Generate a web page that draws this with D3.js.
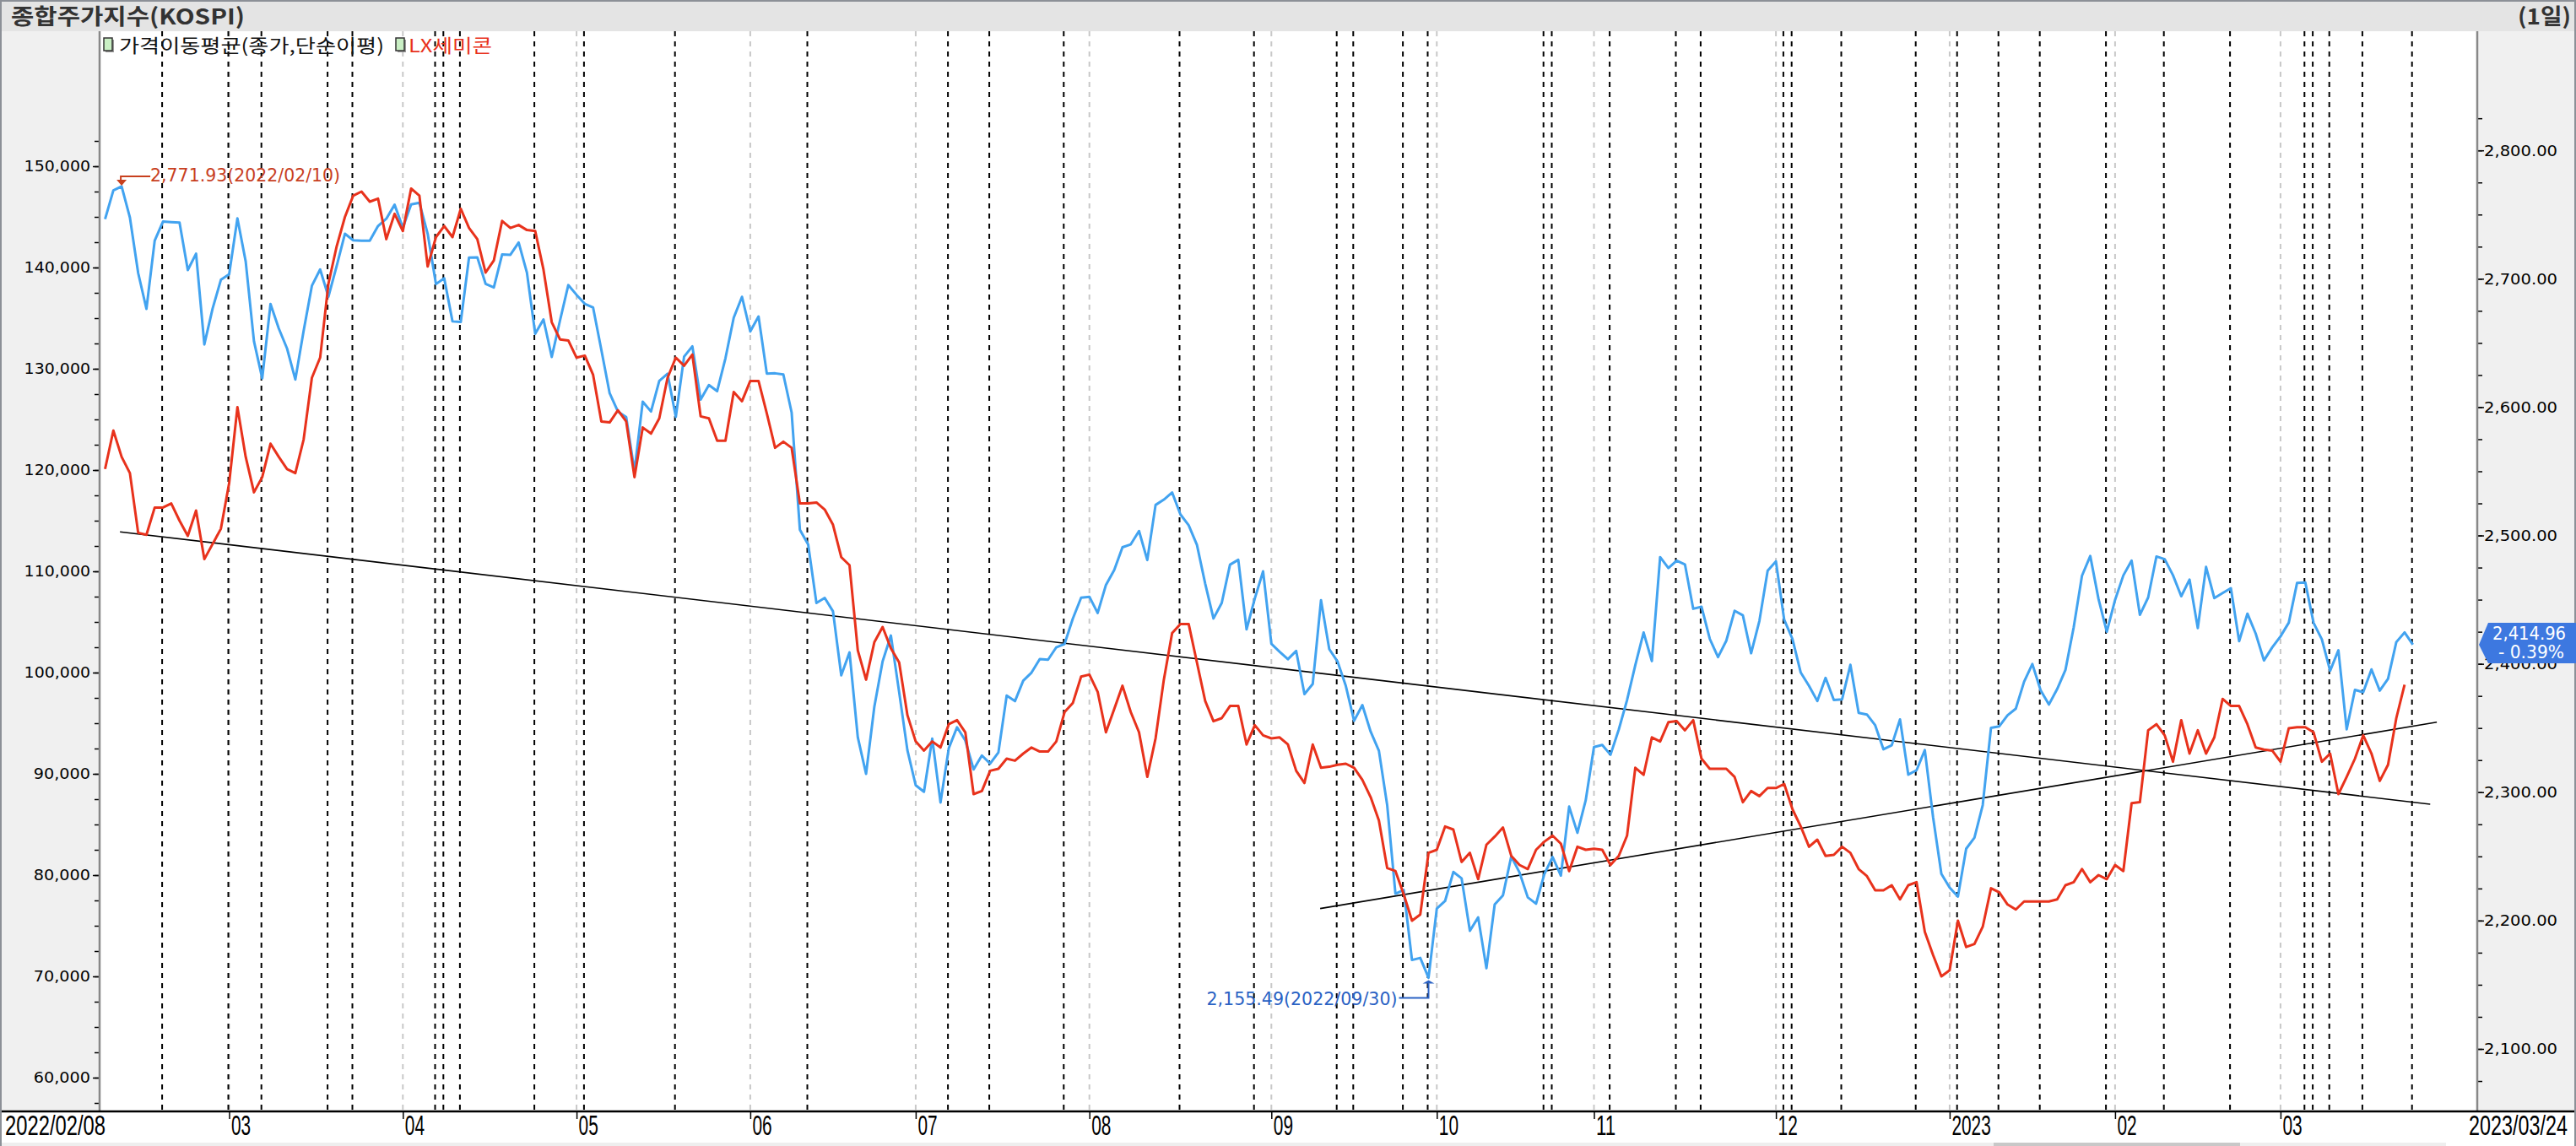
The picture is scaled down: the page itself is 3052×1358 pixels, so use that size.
<!DOCTYPE html>
<html><head><meta charset="utf-8">
<script src="https://cdn.jsdelivr.net/npm/d3@7"></script>
<style>html,body{margin:0;padding:0;background:#fff;overflow:hidden}</style>
</head><body>
<svg id="c" width="3052" height="1358" xmlns="http://www.w3.org/2000/svg"></svg>
<script>
// ---- DATA ----
// KOSPI daily close (blue, right axis), trading days 2022/02/08 .. 2023/03/24
const kospi = [
 2746.47,2768.85,2771.93,2747.71,2704.48,2676.54,2729.68,2744.52,2744.09,2743.80,2706.79,2719.53,2648.80,2676.76,2699.18,
 2703.52,2747.08,2713.43,2651.31,2622.40,2680.32,2661.28,2645.65,2621.53,2659.23,2694.51,2707.28,2686.05,2710.04,2735.05,2729.98,2729.66,2729.56,2741.07,2746.74,2757.65,
 2739.85,2757.90,2759.20,2735.03,2695.86,2700.39,2666.76,2666.31,2716.49,2716.71,2696.06,2693.21,2718.89,2718.69,2728.21,2704.71,2657.13,2668.31,2639.06,2667.49,2695.05,
 2687.45,2680.46,2677.57,2644.51,2610.81,2596.56,2592.27,2550.08,2604.24,2596.58,2620.44,2625.98,2592.34,2639.29,2647.38,2605.87,2617.22,2612.45,2638.05,2669.66,2685.90,
 2658.99,2670.65,2626.15,2626.34,2625.44,2595.87,2504.51,2492.97,2447.38,2451.41,2440.93,2391.03,2408.93,2342.81,2314.32,2366.60,2401.92,2422.09,2377.99,2332.64,
 2305.42,2300.34,2341.78,2292.01,2334.27,2350.61,2340.27,2317.76,2328.61,2322.32,2330.98,2375.25,2370.97,2386.85,2393.14,2403.69,2403.22,2412.90,2415.53,2435.27,2451.50,
 2452.25,2439.62,2461.45,2473.11,2490.80,2493.10,2503.46,2480.88,2523.78,2527.94,2533.52,2516.47,2508.05,2492.69,2462.50,2435.34,2447.45,2477.26,2481.03,2426.89,2450.93,2472.05,
 2415.61,2409.41,2403.68,2410.02,2376.46,2384.28,2449.54,2411.42,2401.83,2382.78,2355.66,2367.85,2347.21,2332.31,2290.00,2220.94,2223.86,2169.29,2170.93,2155.49,
 2209.38,2215.22,2237.86,2232.84,2192.07,2202.47,2162.87,2212.55,2219.71,2249.95,2237.44,2218.09,2213.12,2236.16,2249.55,2235.07,2288.78,2268.40,2293.61,
 2335.22,2336.84,2329.17,2348.83,2371.79,2399.04,2424.41,2402.14,2483.16,2474.65,2480.33,2477.45,2442.90,2444.48,2419.50,2405.27,2418.01,2441.33,2437.86,2408.27,2433.39,2472.53,
 2479.84,2434.33,2419.32,2393.16,2382.81,2371.08,2389.04,2371.84,2372.40,2399.25,2361.85,2360.54,2352.17,2333.41,2336.57,2356.73,2313.69,2317.14,2332.79,2280.45,2236.40,
 2225.67,2218.68,2255.98,2264.65,2289.97,2350.19,2351.31,2359.88,2365.10,2386.09,2399.86,2379.39,2368.32,2380.34,2395.26,2428.57,2468.65,2484.02,2450.47,2425.08,
 2449.80,2468.88,2480.40,2438.19,2451.71,2483.64,2481.52,2469.07,2452.70,2465.64,2427.90,2475.48,2451.21,2455.12,2458.96,2417.68,2439.09,2423.61,2402.64,2412.85,
 2421.40,2432.07,2462.99,2463.35,2431.91,2419.09,2394.59,2410.60,2348.97,2379.72,2377.91,2395.69,2379.14,2388.35,2416.96,2424.48,2414.96
];
// LX세미콘 close (red, left axis)
const lxsemicon = [
 120100,123900,121300,119700,113800,113600,116300,116300,116700,115000,113500,116000,111200,112700,114200,
 118700,126200,121300,117800,119300,122600,121300,120100,119700,123000,129100,131100,138400,142100,145000,147100,147500,146500,146800,142800,145300,
 143600,147800,147100,140100,143000,144100,143000,145800,143900,142800,139500,140700,144600,143900,144200,143700,143600,139800,134600,132900,132800,
 131100,131300,129400,124800,124700,125900,124800,119300,124200,123600,125100,129100,131100,130300,131400,125300,125100,122900,122900,127700,126800,
 128800,128800,125600,122200,122800,122200,116700,116700,116800,116100,114600,111400,110600,102200,99300,103000,104500,102400,101000,95800,
 93200,92300,93200,92600,94900,95300,94100,88000,88300,90300,90500,91500,91300,92000,92600,92200,92200,93200,96100,97000,99600,
 99800,98100,94100,96400,98700,96100,94100,89700,93500,99300,103900,104800,104800,101000,97200,95200,95500,96700,96700,92900,94800,93800,
 93500,93600,92900,90300,89100,92900,90600,90700,90900,91000,90600,89400,87700,85400,80700,80400,78100,75500,76100,
 82200,82500,84800,84500,81300,82200,79600,83000,83800,84700,81900,81000,80600,82500,83300,83900,83100,80400,82800,
 82500,82600,82500,81000,81900,83900,90600,89900,93600,93200,95100,95200,94300,95300,91500,90500,90500,90500,89700,87200,88300,87800,
 88600,88600,89000,86500,84800,82800,83500,81900,82000,82800,82200,80600,79900,78500,78500,79000,77600,79000,79300,74400,72100,
 70000,70600,75500,72900,73200,74900,78700,78300,77100,76600,77400,77400,77400,77400,77600,79000,79300,80600,79300,80000,
 79600,81000,80400,87100,87200,94300,94900,93800,91200,95300,92000,94300,92000,93600,97400,96700,96700,94900,92600,92400,
 92300,91200,94500,94600,94600,94100,91200,92000,88000,89700,91500,93800,92000,89300,90900,95500,98800
];
// month ticks on the trading-day axis
const monthLabels = ["03","04","05","06","07","08","09","10","11","12","2023","02","03"];
const monthIdx    = [15,36,57,78,98,119,141,161,180,202,223,243,263];
// event (black dashed) markers, trading-day index
const eventIdx = [7,15,19,27,30,40,41,43,52,58,69,85,102,107,116,130,139,149,151,157,160,174,175,182,190,193,203,204,210,219,224,229,234,242,249,257,266,267,269,273,279];
const leftTicks  = [60000,70000,80000,90000,100000,110000,120000,130000,140000,150000];
const rightTicks = [2100,2200,2300,2400,2500,2600,2700,2800];
const firstDate = "2022/02/08", lastDate = "2023/03/24";
// trend lines in (index, LX price) space
const trendA = [[1.8,113900],[281.1,87000]];
const trendB = [[146.9,76700],[281.9,95100]];
const maxMark = {i:2, v:2771.93, text:"2,771.93(2022/02/10)"};
const minMark = {i:160, v:2155.49, text:"2,155.49(2022/09/30)"};
const lastBox = {v:2414.96, line1:"2,414.96", line2:"- 0.39%"};
const title = "종합주가지수(KOSPI)", period = "(1일)";
const legendItems = ["가격이동평균(종가,단순이평)","LX세미콘"];

// ---- LAYOUT ----
const W=3052,H=1358, L=118, R=2935, T=37, B=1317;
const svg = d3.select("#c");
const x  = d3.scaleLinear().domain([0,279]).range([124.5,2858.7]);
const yL = d3.scaleLinear().domain([60000,150000]).range([1277,197]);
const yR = d3.scaleLinear().domain([2100,2800]).range([1243,178.2]);
const BLUE="#42a3f0", RED="#e8321c";

svg.append("rect").attr("width",W).attr("height",H).attr("fill","#fff");
svg.append("rect").attr("x",0).attr("y",T).attr("width",L).attr("height",B-T).attr("fill","#f0f0f0");
svg.append("rect").attr("x",R).attr("y",T).attr("width",W-R).attr("height",B-T).attr("fill","#f0f0f0");
svg.append("rect").attr("x",0).attr("y",0).attr("width",W).attr("height",T).attr("fill","#e4e4e4");
svg.append("rect").attr("x",0).attr("y",0).attr("width",W).attr("height",2).attr("fill","#8c9097");
// bottom scroll strip
svg.append("rect").attr("x",0).attr("y",1354).attr("width",2898).attr("height",4).attr("fill","#eeeeee");
svg.append("rect").attr("x",2362).attr("y",1354).attr("width",292).attr("height",4).attr("fill","#c8c8c8");

const plot = svg.append("g");
plot.selectAll("line.m").data(monthIdx).join("line").attr("class","m")
  .attr("x1",d=>x(d)).attr("x2",d=>x(d)).attr("y1",T).attr("y2",B)
  .attr("stroke","#c8c8c8").attr("stroke-width",2).attr("stroke-dasharray","6,6");
plot.selectAll("line.e").data(eventIdx).join("line").attr("class","e")
  .attr("x1",d=>x(d)-1).attr("x2",d=>x(d)-1).attr("y1",T).attr("y2",B)
  .attr("stroke","#000").attr("stroke-width",2).attr("stroke-dasharray","6,6");
[trendA,trendB].forEach(t=>{
  plot.append("line").attr("x1",x(t[0][0])).attr("y1",yL(t[0][1])).attr("x2",x(t[1][0])).attr("y2",yL(t[1][1]))
   .attr("stroke","#000").attr("stroke-width",1.6);
});
plot.append("path").datum(kospi).attr("fill","none").attr("stroke",BLUE).attr("stroke-width",3)
  .attr("stroke-linejoin","round").attr("d",d3.line().x((d,i)=>x(i)).y(d=>yR(d)));
plot.append("path").datum(lxsemicon).attr("fill","none").attr("stroke",RED).attr("stroke-width",3)
  .attr("stroke-linejoin","round").attr("d",d3.line().x((d,i)=>x(i)).y(d=>yL(d)));

// helper: squeeze a text horizontally to a target width using a real transform
function squeeze(sel, target, anchorX, anchor){
  const n = sel.node().getComputedTextLength();
  const s = target/n;
  const y = +sel.attr("y");
  sel.attr("x",0).attr("y",0).attr("text-anchor","start");
  const x0 = anchor==="end" ? anchorX - target : anchorX;
  sel.attr("transform",`translate(${x0},${y}) scale(${s},1)`);
}

// ---- AXES ----
const numFont = "'DejaVu Sans', sans-serif";
const gl = svg.append("g").attr("transform",`translate(${L},0)`);
gl.call(d3.axisLeft(yL).tickValues(d3.range(57500,155000,2500)).tickSize(6).tickFormat(""));
gl.call(g=>g.select(".domain").remove());
const gl2 = svg.append("g").attr("transform",`translate(${L},0)`);
gl2.call(d3.axisLeft(yL).tickValues(leftTicks).tickSize(8).tickPadding(3).tickFormat(d3.format(",")));
gl2.select(".domain").remove();
[gl,gl2].forEach(g=>g.selectAll("line").attr("stroke","#000").attr("stroke-width",1.5));
gl2.selectAll("text").attr("font-family",numFont).attr("font-size",18.5).attr("fill","#000")
  .attr("textLength",d=>String(d3.format(",")(d)).length*11.2).attr("lengthAdjust","spacingAndGlyphs");
svg.append("line").attr("x1",L).attr("x2",L).attr("y1",T).attr("y2",B).attr("stroke","#888").attr("stroke-width",2.5);

const gr = svg.append("g").attr("transform",`translate(${R},0)`);
gr.call(d3.axisRight(yR).tickValues(d3.range(2075,2850,25)).tickSize(6).tickFormat(""));
gr.select(".domain").remove();
const gr2 = svg.append("g").attr("transform",`translate(${R},0)`);
gr2.call(d3.axisRight(yR).tickValues(rightTicks).tickSize(8).tickPadding(0).tickFormat(d3.format(",.2f")));
gr2.select(".domain").remove();
[gr,gr2].forEach(g=>g.selectAll("line").attr("stroke","#000").attr("stroke-width",1.5));
gr2.selectAll("text").attr("font-family",numFont).attr("font-size",18.5).attr("fill","#000")
  .attr("textLength",87).attr("lengthAdjust","spacingAndGlyphs");
svg.append("line").attr("x1",R).attr("x2",R).attr("y1",T).attr("y2",B).attr("stroke","#888").attr("stroke-width",2.5);

// bottom axis
const narrow = "'Liberation Sans Narrow','Liberation Sans', sans-serif";
const gb = svg.append("g").attr("transform",`translate(0,${B})`);
gb.call(d3.axisBottom(x).tickValues(monthIdx).tickSize(9).tickFormat((d,i)=>monthLabels[i]));
gb.select(".domain").remove();
gb.selectAll("line").attr("stroke","#000").attr("stroke-width",1.5);
gb.selectAll("text").attr("dy",null).attr("y",28)
  .attr("font-family",narrow).attr("font-size",34).attr("fill","#000")
  .each(function(d,i){ squeeze(d3.select(this), monthLabels[i].length*11.6, 2, "start"); });
svg.append("line").attr("x1",0).attr("x2",W).attr("y1",B).attr("y2",B).attr("stroke","#000").attr("stroke-width",2.5);
squeeze(svg.append("text").attr("y",B+28).text(firstDate).attr("font-family",narrow).attr("font-size",34), 119, 6, "start");
squeeze(svg.append("text").attr("y",B+28).text(lastDate).attr("font-family",narrow).attr("font-size",34), 117, 3042, "end");

// borders
svg.append("rect").attr("x",0).attr("y",0).attr("width",2).attr("height",H).attr("fill","#8c9097");
svg.append("rect").attr("x",W-2).attr("y",0).attr("width",2).attr("height",H).attr("fill","#8c9097");

// ---- ANNOTATIONS ----
const annFont = "'DejaVu Sans Condensed','DejaVu Sans',sans-serif";
{
  const px=x(maxMark.i), py=yR(maxMark.v), c="#c8401e";
  svg.append("path").attr("d",`M${px},${py-1}L${px-6},${py-8}L${px+6},${py-8}Z`).attr("fill",c);
  svg.append("path").attr("d",`M${px-1},${py-8}V${py-12}H${px+34}`).attr("fill","none").attr("stroke",c).attr("stroke-width",2);
  svg.append("text").attr("x",px+34).attr("y",py-6).text(maxMark.text).attr("fill",c)
    .attr("font-family",annFont).attr("font-size",22).attr("textLength",225).attr("lengthAdjust","spacingAndGlyphs");
}
{
  const px=x(minMark.i), py=yR(minMark.v), c="#2a62c4";
  svg.append("path").attr("d",`M${px},${py+3}L${px-7},${py+7}L${px+7},${py+7}Z`).attr("fill",c);
  svg.append("path").attr("d",`M${px},${py+7}V${py+24}H${px-35}`).attr("fill","none").attr("stroke",c).attr("stroke-width",2);
  svg.append("text").attr("x",px-37).attr("y",py+32).attr("text-anchor","end").text(minMark.text).attr("fill",c)
    .attr("font-family",annFont).attr("font-size",22).attr("textLength",226).attr("lengthAdjust","spacingAndGlyphs");
}
{
  const vy=yR(lastBox.v);
  svg.append("path").attr("d",`M${R+2},${vy}L${R+13},${vy-26}H${W}V${vy+22}H${R+13}Z`).attr("fill","#3d78e0");
  svg.append("text").attr("x",3040).attr("y",vy-6).attr("text-anchor","end").text(lastBox.line1).attr("fill","#fff")
    .attr("font-family",annFont).attr("font-size",21).attr("textLength",87).attr("lengthAdjust","spacingAndGlyphs");
  svg.append("text").attr("x",3038).attr("y",vy+16).attr("text-anchor","end").text(lastBox.line2).attr("fill","#fff")
    .attr("font-family",annFont).attr("font-size",21).attr("textLength",78).attr("lengthAdjust","spacingAndGlyphs");
}

// ---- HEADER / LEGEND ----
const kfont = "'Noto Sans CJK KR','Noto Sans',sans-serif";
svg.append("text").attr("x",13).attr("y",29).text(title).attr("fill","#333").attr("font-family",kfont)
  .attr("font-size",26).attr("font-weight",700).attr("textLength",277).attr("lengthAdjust","spacingAndGlyphs");
svg.append("text").attr("x",2983).attr("y",29).text(period).attr("fill","#333").attr("font-family",kfont)
  .attr("font-size",26).attr("font-weight",700).attr("textLength",63).attr("lengthAdjust","spacingAndGlyphs");
const legX=[123,469], legTX=[141,484], legW=[314,99], legC=["#111",RED];
legendItems.forEach((t,k)=>{
  svg.append("rect").attr("x",legX[k]+2).attr("y",47).attr("width",10).attr("height",15).attr("fill","#999");
  svg.append("rect").attr("x",legX[k]).attr("y",45).attr("width",10).attr("height",15).attr("fill","#c9efc4").attr("stroke","#333").attr("stroke-width",1.5);
  svg.append("text").attr("x",legTX[k]).attr("y",62).text(t).attr("fill",legC[k]).attr("font-family",kfont)
    .attr("font-size",22).attr("textLength",legW[k]).attr("lengthAdjust","spacingAndGlyphs");
});
</script>
</body></html>
